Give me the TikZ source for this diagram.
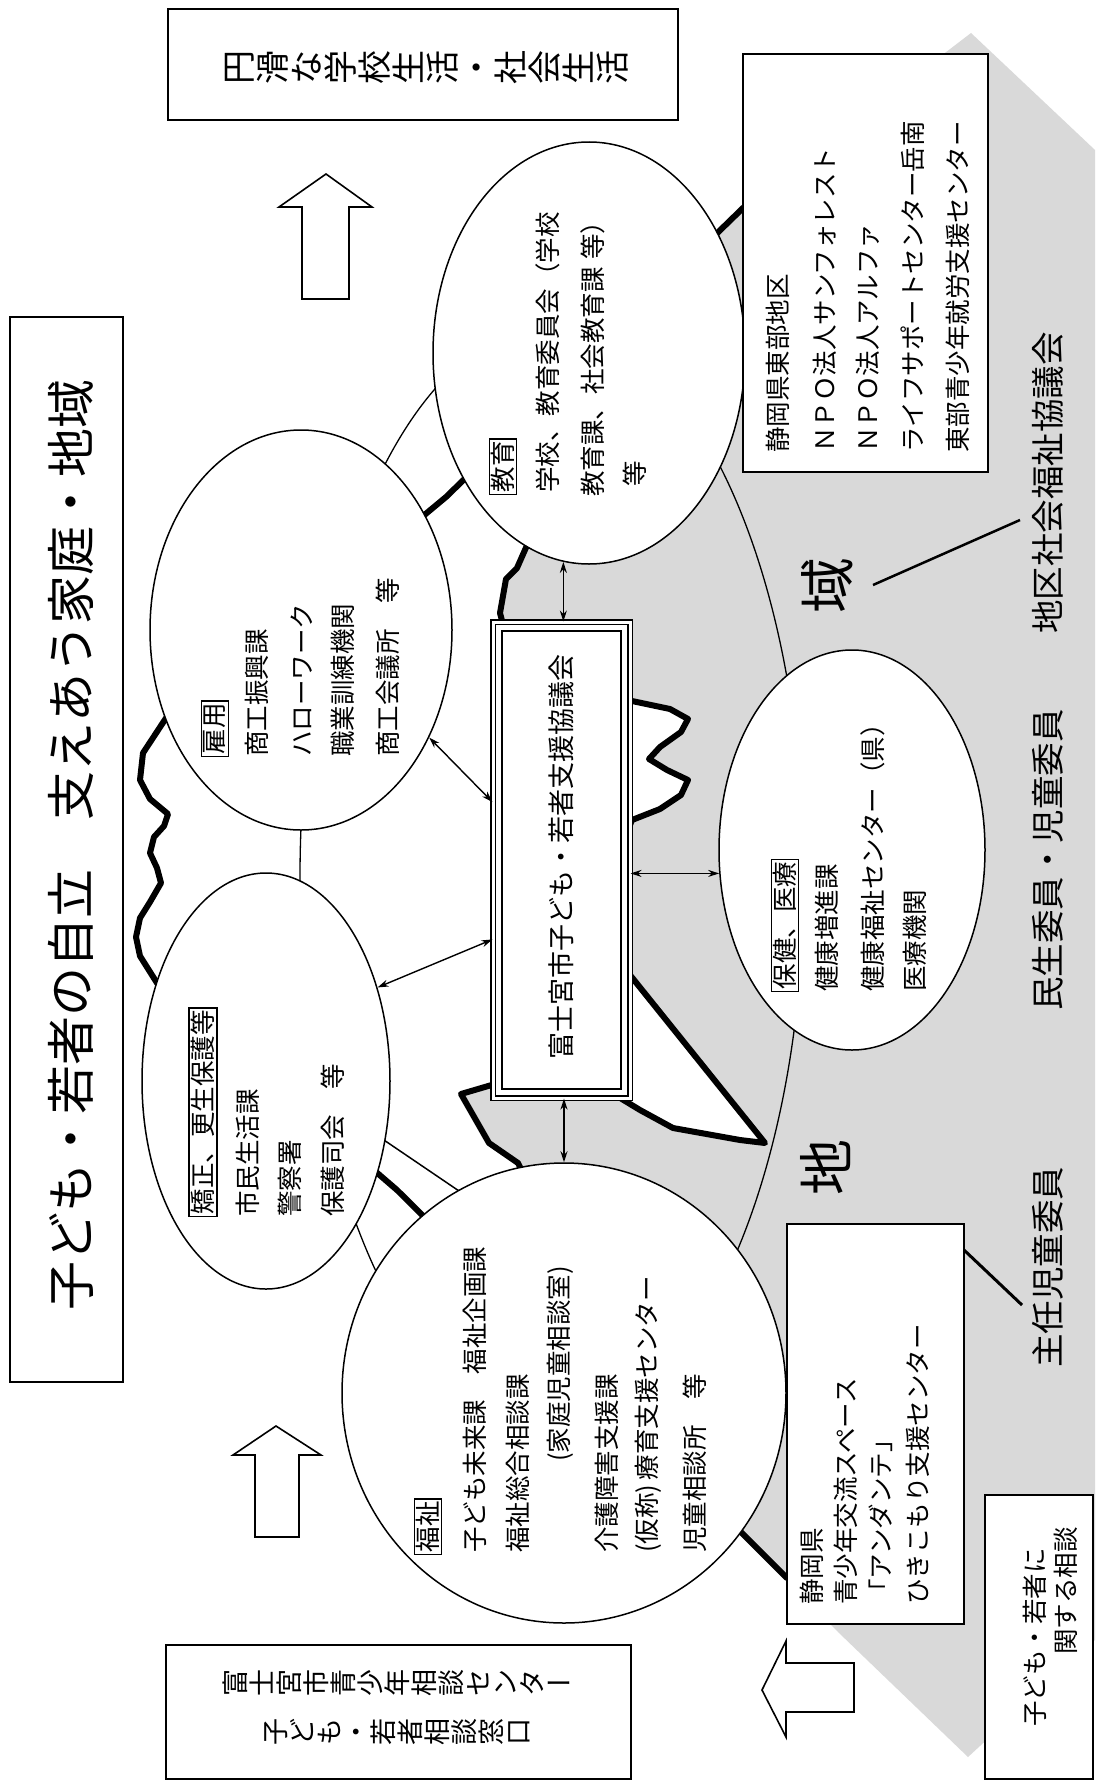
\documentclass[tikz,border=0pt]{standalone}
\usepackage{fontspec}
\setmainfont{Noto Sans CJK JP}
\usepackage{graphicx}
\usetikzlibrary{shapes.geometric,arrows.meta}
\makeatletter
\def\vt@end{}
\def\vtext#1{\vt@loop#1\vt@end}
\def\vt@loop#1{\ifx#1\vt@end\else\vt@char{#1}\expandafter\vt@loop\fi}
\def\vt@char#1{\if#1ー\relax\makebox[1em]{ー}\else\rotatebox[origin=c]{90}{\raisebox{0pt}[0.88em][0.12em]{\makebox[1em]{#1}}}\fi}
\makeatother
\newcommand\lbl[1]{{\setlength\fboxsep{1.5pt}\setlength\fboxrule{1.2pt}\fbox{#1}}}
\tikzset{
 mtn/.style={line width=6pt, line join=round, line cap=round},
 ell/.style={ellipse, draw, fill=white, line width=1.5pt, inner sep=0pt},
 boxn/.style={draw, fill=white, line width=2pt, inner sep=0pt},
 hl/.style={rotate=90, anchor=west, inner sep=0pt, font=\fontsize{25.5pt}{30pt}\selectfont},
 biarrow/.style={{Stealth[length=11pt,width=7pt]}-{Stealth[length=11pt,width=7pt]}, line width=1.4pt},
 blockarrow/.style={draw, fill=white, line width=1.6pt, line join=miter},
}
\begin{document}
\begin{tikzpicture}[x=1pt,y=-1pt]
\useasboundingbox (0,0) rectangle (1095,1782);
\fill[white] (0,0) rectangle (1095,1782);
% mountain (gray, below snow line)
\fill[black!15] (971,33) -- (1095,150) -- (1095,1640) -- (968,1757) -- (838,1632) -- (756,1547) -- (660,1452)
  -- (518,1163) -- (489,1143) -- (461,1094) -- (495,1084) -- (560,1060) -- (607,1090) -- (640,1110)
  -- (673,1128) -- (740,1140) -- (765,1143) -- (630,975) -- (600,900) -- (632,820) -- (660,809)
  -- (681,795) -- (688,780) -- (667,770) -- (649,759) -- (660,747) -- (681,732) -- (688,719)
  -- (670,709) -- (632,701) -- (560,690) -- (506,636) -- (500,613) -- (506,579) -- (517,568)
  -- (532,534) -- (600,347) -- (744,207) -- cycle;
% community ring
\draw[line width=1.3pt] (552,877) ellipse [x radius=252, y radius=551];
% mountain outline and summit
\draw[mtn] (787,1578) -- (756,1547) -- (397,1190) -- (157,983) -- (140,956) -- (136,937) -- (140,918)
  -- (150,902) -- (161,883) -- (157,868) -- (150,853) -- (154,837) -- (164,826) -- (168,814)
  -- (150,799) -- (140,780) -- (143,753) -- (168,715) -- (250,660) -- (446,497) -- (744,207) -- (900,85);
% snow line
\draw[mtn] (600,347) -- (532,534) -- (517,568) -- (506,579) -- (500,613) -- (506,636) -- (560,690)
  -- (632,701) -- (670,709) -- (688,719) -- (681,732) -- (660,747) -- (649,759) -- (667,770)
  -- (688,780) -- (681,795) -- (660,809) -- (632,820) -- (600,900) -- (630,975) -- (765,1143)
  -- (740,1140) -- (673,1128) -- (640,1110) -- (607,1090) -- (560,1060) -- (495,1084) -- (461,1094)
  -- (489,1143) -- (518,1163) -- (660,1452);
\draw[line width=1.5pt] (378,1136) -- (462,1193);
% ellipses
\node[ell, minimum width=248pt, minimum height=416pt] (kyosei) at (266,1081) {};
\node[ell, minimum width=302pt, minimum height=400pt] (koyo) at (301,630) {};
\node[ell, minimum width=312pt, minimum height=422pt] (kyoiku) at (589,353) {};
\node[ell, minimum width=444pt, minimum height=460pt] (fukushi) at (564,1393) {};
\node[ell, minimum width=266pt, minimum height=400pt] (hoken) at (852,850) {};
% central box
\node[draw, fill=white, double, double distance=3pt, line width=1.1pt, inner sep=0pt,
  minimum width=137pt, minimum height=476pt] (kyogikai) at (561.5,860) {};
\node[draw, line width=1.6pt, inner sep=0pt, minimum width=119pt, minimum height=458pt] (kyogikaiin) at (561.5,860) {};
% boxes
\node[boxn, minimum width=113pt, minimum height=1065pt] (titlebox) at (66.5,849.5) {};
\node[boxn, minimum width=510pt, minimum height=111pt] (goalbox) at (423,64.5) {};
\node[boxn, minimum width=245pt, minimum height=418pt] (npobox) at (865.5,263) {};
\node[boxn, minimum width=177pt, minimum height=400pt] (kenbox) at (875.5,1424) {};
\node[boxn, minimum width=108pt, minimum height=284pt] (soudanbox) at (1039,1637) {};
\node[boxn, minimum width=465pt, minimum height=134pt] (centerbox) at (398.5,1712) {};
% block arrows
\draw[blockarrow] (302,299) -- (349,299) -- (349,207) -- (372,207) -- (326,174) -- (279,207) -- (302,207) -- cycle;
\draw[blockarrow] (255,1537) -- (299,1537) -- (299,1455) -- (321,1455) -- (276,1426) -- (233,1455) -- (255,1455) -- cycle;
\draw[blockarrow] (854,1663) -- (854,1712) -- (786,1712) -- (786,1737) -- (762,1690) -- (786,1641) -- (786,1663) -- cycle;
% double arrows
\draw[biarrow] (kyoiku.263) -- (kyoiku.263 |- kyogikai.north);
\draw[biarrow] (koyo.-40) -- (kyogikai.140);
\draw[biarrow] (kyosei.40) -- (kyogikai.229);
\draw[biarrow] (hoken.190) -- (hoken.190 -| kyogikai.east);
\draw[biarrow] (fukushi.north) -- (fukushi.north |- kyogikai.south);
% texts
\node[rotate=90, inner sep=0pt, font=\fontsize{49pt}{55pt}\selectfont] (title) at (71,845) {子ども・若者の自立　支えあう家庭・地域};
\node[inner sep=0pt, font=\fontsize{34pt}{40pt}\selectfont] (goal) at (426,68) {\vtext{円滑な学校生活・社会生活}};
\node[rotate=90, inner sep=0pt, font=\fontsize{27pt}{30pt}\selectfont] (kyogikaitxt) at (561,857) {富士宮市子ども・若者支援協議会};
% 教育
\node[hl] (e0) at (503,495) {\lbl{教育}};
\node[hl] (e1) at (548,493) {学校、教育委員会（学校};
\node[hl] (e2) at (593,497) {教育課、社会教育課\hspace{0.3em}等）};
\node[hl] (e3) at (635,487) {等};
% 雇用
\node[hl] (k0) at (215,757) {\lbl{雇用}};
\node[hl] (k1) at (257,757) {商工振興課};
\node[hl] (k2) at (302,757) {ハローワーク};
\node[hl] (k3) at (343,757) {職業訓練機関};
\node[hl] (k4) at (388,757) {商工会議所　等};
% 矯正
\node[hl] (s0) at (203,1217) {\lbl{矯正、更生保護等}};
\node[hl] (s1) at (248,1217) {市民生活課};
\node[hl] (s2) at (290,1217) {警察署};
\node[hl] (s3) at (333,1217) {保護司会　等};
% 福祉
\node[hl] (f0) at (428,1555) {\lbl{福祉}};
\node[hl] (f1) at (475,1553) {子ども未来課　福祉企画課};
\node[hl] (f2) at (518,1553) {福祉総合相談課};
\node[hl] (f3) at (560,1462) {(家庭児童相談室)};
\node[hl] (f4) at (607,1553) {介護障害支援課};
\node[hl] (f5) at (648,1553) {(仮称)\,療育支援センター};
\node[hl] (f6) at (695,1553) {児童相談所　等};
% 保健
\node[hl] (h0) at (785,992) {\lbl{保健、医療}};
\node[hl] (h1) at (827,992) {健康増進課};
\node[hl] (h2) at (873,992) {健康福祉センター（県）};
\node[hl] (h3) at (915,992) {医療機関};
% NPO box
\node[hl] (n1) at (778,453) {静岡県東部地区};
\node[hl] (n2) at (825,453) {ＮＰＯ法人サンフォレスト};
\node[hl] (n3) at (868,453) {ＮＰＯ法人アルファ};
\node[hl] (n4) at (913,453) {ライフサポートセンター岳南};
\node[hl] (n5) at (958,453) {東部青少年就労支援センター};
% 静岡県 box
\node[hl] (p1) at (812,1605) {静岡県};
\node[hl] (p2) at (846,1605) {青少年交流スペース};
\node[hl] (p3) at (881,1605) {「アンダンテ」};
\node[hl] (p4) at (918,1605) {ひきこもり支援センター};
% 相談 box
\node[hl] (c1) at (1035,1727) {子ども・若者に};
\node[hl] (c2) at (1066,1655) {関する相談};
% center bottom box
\node[inner sep=0pt, font=\fontsize{27pt}{30pt}\selectfont] (cb1) at (397,1683) {\vtext{富士宮市青少年相談センター}};
\node[inner sep=0pt, font=\fontsize{27pt}{30pt}\selectfont] (cb2) at (397,1732) {\vtext{子ども・若者相談窓口}};
% region labels
\node[rotate=90, inner sep=0pt, font=\fontsize{56pt}{60pt}\selectfont] (iki) at (827,585) {域};
\node[rotate=90, inner sep=0pt, font=\fontsize{56pt}{60pt}\selectfont] (chi) at (826,1167) {地};
\node[rotate=90, inner sep=0pt, font=\fontsize{33.5pt}{36pt}\selectfont] (chiku) at (1048,483) {地区社会福祉協議会};
\node[rotate=90, inner sep=0pt, font=\fontsize{33.5pt}{36pt}\selectfont] (minsei) at (1048,860) {民生委員・児童委員};
\node[rotate=90, inner sep=0pt, font=\fontsize{33.5pt}{36pt}\selectfont] (shunin) at (1048,1267) {主任児童委員};
% leader lines
\coordinate (chikuA) at (873,585);
\coordinate (chikuB) at (1020,520);
\draw[line width=2.5pt] (chikuA) -- (chikuB);
\coordinate (shuninA) at (964,1250);
\coordinate (shuninB) at (1022,1305);
\draw[line width=3pt] (shuninA) -- (shuninB);
\end{tikzpicture}
\end{document}
